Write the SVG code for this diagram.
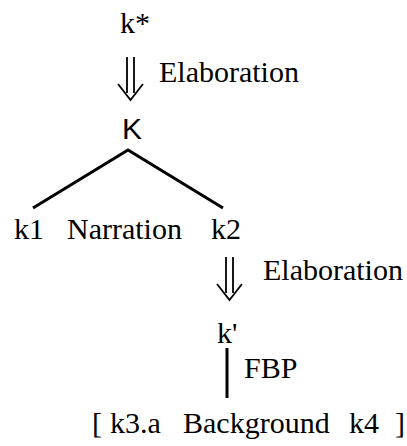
<svg xmlns="http://www.w3.org/2000/svg" width="407" height="446" viewBox="0 0 407 446">
<style>
.t{font-family:"Liberation Serif","Times New Roman",serif;font-size:30px;fill:#000}
.s{font-family:"Liberation Sans",Arial,sans-serif;font-size:30px;fill:#000}
.ln{stroke:#000;stroke-width:3;fill:none;stroke-linecap:butt}
.dar{stroke:#000;stroke-width:1.8;fill:none}
</style>
<defs>
<g id="darrow">
<path class="dar" d="M-3.5,0 V36 M3.5,0 V36 M-12.5,27 L0,43 L12.5,27"/>
</g>
</defs>
<rect width="407" height="446" fill="#fff"/>
<g id="node-kstar"><text class="t" x="120" y="33">k*</text></g>
<g id="node-K"><text class="s" x="122" y="139">K</text></g>
<g id="node-k1"><text class="t" x="14" y="239">k1</text></g>
<g id="node-k2"><text class="t" x="211" y="239">k2</text></g>
<g id="node-kprime"><text class="t" x="217" y="343">k'</text></g>
<g id="node-bottom"><text class="t" y="433"><tspan x="92">[</tspan><tspan x="110">k3.a</tspan><tspan x="183">Background</tspan><tspan x="349">k4</tspan><tspan x="395">]</tspan></text></g>
<g id="connectors">
<use href="#darrow" x="130.5" y="57"/>
<use href="#darrow" x="229.5" y="257"/>
<path class="ln" d="M33,208 L128,150 L223,208"/>
<path class="ln" d="M227,348 V398"/>
<text class="t" x="159" y="82">Elaboration</text>
<text class="t" x="67" y="239">Narration</text>
<text class="t" x="263" y="280">Elaboration</text>
<text class="t" x="244" y="378">FBP</text>
</g>
</svg>
